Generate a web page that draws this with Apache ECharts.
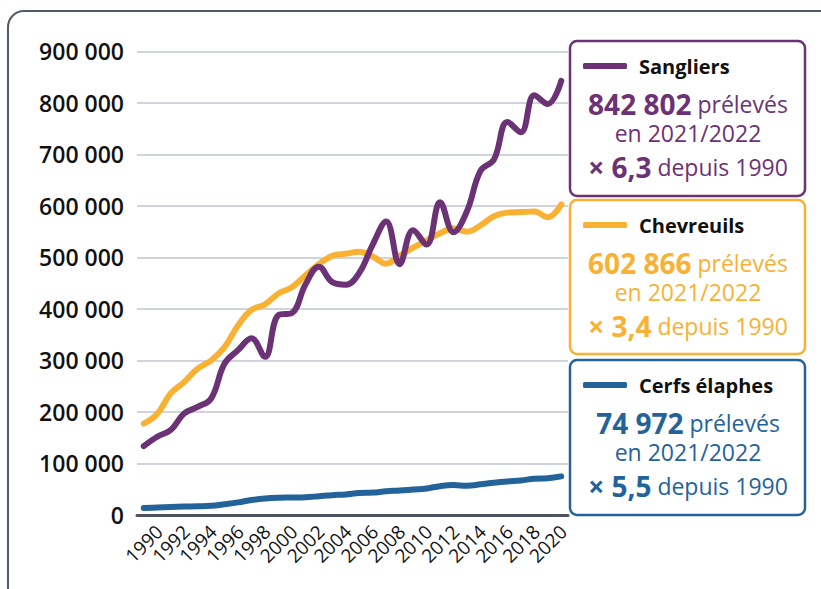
<!DOCTYPE html>
<html>
<head>
<meta charset="utf-8">
<script src="https://cdn.jsdelivr.net/npm/echarts@6/dist/echarts.min.js"></script>
<style>
  html, body { margin: 0; padding: 0; background: #fff; }
  #chart { width: 821px; height: 589px; }
</style>
</head>
<body>
<div id="chart"></div>
<script>
const years = ['1990', '1991', '1992', '1993', '1994', '1995', '1996', '1997', '1998', '1999',
  '2000', '2001', '2002', '2003', '2004', '2005', '2006', '2007', '2008', '2009',
  '2010', '2011', '2012', '2013', '2014', '2015', '2016', '2017', '2018', '2019',
  '2020', '2021']

const sangliers = [133778, 152000, 165000, 197000, 210000, 226000, 294000, 320000, 343000, 307000,
  388000, 392000, 447000, 482000, 452000, 447000, 470000, 525000, 570000, 487000,
  553000, 525000, 607000, 549000, 590000, 668000, 690000, 763000, 743000, 815000,
  798000, 842802]

const chevreuils = [177314, 196000, 236000, 258000, 284000, 300000, 326000, 368000, 398000, 409000,
  430000, 442000, 465000, 487000, 503000, 507000, 511000, 502000, 488000, 503000,
  519000, 533000, 547000, 556000, 550000, 562000, 580000, 587000, 588000, 589000,
  578000, 602866]

const cerfs = [13631, 14500, 15500, 16300, 17000, 18000, 21000, 24500, 29000, 32000,
  33500, 34000, 34500, 36500, 38500, 40000, 42500, 43500, 46000, 47500,
  49500, 51500, 56000, 58000, 57000, 59500, 62500, 65000, 67000, 70500,
  71500, 74972]

const names = ['Sangliers', 'Chevreuils', 'Cerfs élaphes']
const totals = ['842 802', '602 866', '74 972']
const factors = ['6,3', '3,4', '5,5']

const colors = ['#6c3276', '#f8b133', '#24639a']
const font = '"Open Sans", sans-serif'

const chart = echarts.init(document.getElementById('chart'), null, { renderer: 'svg' })

const boxTops = [41, 200, 360]
const boxHeights = [155, 154, 155]

const graphics = [{
  type: 'rect',
  shape: { x: 8, y: 11, width: 840, height: 600, r: 16 },
  style: { fill: 'none', stroke: '#525a68', lineWidth: 2 },
  silent: true
}]

names.forEach((name, i) => {
  const top = boxTops[i]
  const rich = {
    n: { fontFamily: font, fontSize: 28, fontWeight: 'bold', fill: colors[i] },
    t: { fontFamily: font, fontSize: 23, fill: colors[i] }
  }
  graphics.push({
    type: 'rect',
    shape: { x: 570, y: top, width: 235, height: boxHeights[i], r: 7 },
    style: { fill: '#fff', stroke: colors[i], lineWidth: 2.5 },
    z: 1
  })
  graphics.push({
    type: 'text',
    x: 688, y: top + 63, z: 2,
    style: {
      text: '{n|' + totals[i] + '}{t| prélevés}',
      align: 'center', verticalAlign: 'middle',
      rich: rich
    }
  })
  graphics.push({
    type: 'text',
    x: 688, y: top + 92, z: 2,
    style: {
      text: 'en 2021/2022',
      align: 'center', verticalAlign: 'middle',
      fontFamily: font, fontSize: 23, fill: colors[i]
    }
  })
  graphics.push({
    type: 'text',
    x: 688, y: top + 126, z: 2,
    style: {
      text: '{n|× ' + factors[i] + '}{t| depuis 1990}',
      align: 'center', verticalAlign: 'middle',
      rich: rich
    }
  })
})

const legends = names.map((name, i) => ({
  data: [name],
  left: 583,
  top: boxTops[i] + 15,
  padding: 0,
  icon: 'roundRect',
  itemWidth: 44,
  itemHeight: 6,
  selectedMode: false,
  z: 5,
  textStyle: {
    fontFamily: font, fontSize: 20, fontWeight: 'bold', color: '#111',
    padding: [0, 0, 0, 7]
  }
}))

const lineSeries = (name, data, color) => ({
  name: name,
  type: 'line',
  data: data,
  smooth: 0.4,
  symbol: 'none',
  itemStyle: { color: color },
  lineStyle: { width: 6, color: color, cap: 'round', join: 'round' }
})

chart.setOption({
  animation: false,
  graphic: graphics,
  legend: legends,
  grid: { left: 137, right: 253, top: 51.4, bottom: 74, containLabel: false },
  xAxis: {
    type: 'category',
    data: years,
    boundaryGap: true,
    axisTick: { show: false },
    axisLine: { lineStyle: { color: '#4d5460', width: 3 } },
    axisLabel: {
      interval: 1,
      rotate: 45,
      margin: 29,
      padding: [0, -22, 0, 0],
      fontFamily: font,
      fontSize: 19,
      color: '#111'
    }
  },
  yAxis: {
    type: 'value',
    min: 0,
    max: 900000,
    interval: 100000,
    axisLine: { show: false },
    axisTick: { show: false },
    splitLine: { lineStyle: { color: '#cfd3dc', width: 2 } },
    axisLabel: {
      margin: 13,
      fontFamily: font,
      fontSize: 23,
      fontWeight: 600,
      color: '#111',
      formatter: v => v === 0 ? '0' : (v / 1000) + ' 000'
    }
  },
  series: [
    lineSeries('Cerfs élaphes', cerfs, colors[2]),
    lineSeries('Chevreuils', chevreuils, colors[1]),
    lineSeries('Sangliers', sangliers, colors[0])
  ]
})
</script>
</body>
</html>
